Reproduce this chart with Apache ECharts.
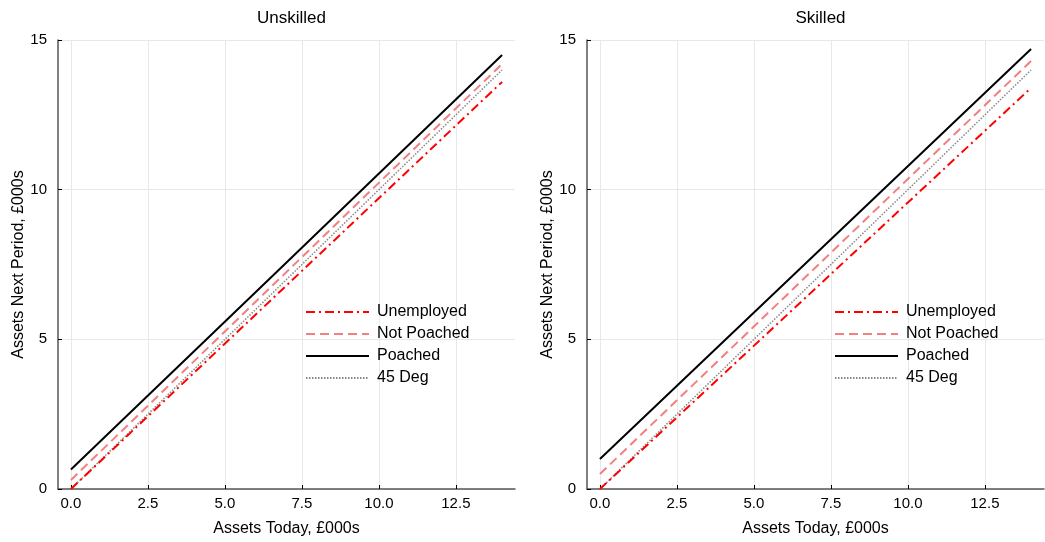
<!DOCTYPE html>
<html>
<head>
<meta charset="utf-8">
<script src="https://cdn.jsdelivr.net/npm/echarts@6/dist/echarts.min.js"></script>
<style>html,body{margin:0;padding:0;background:#fff}#c{width:1045px;height:542px}</style>
</head>
<body>
<div id="c"></div>
<script>
// Data
var panelTitles = ['Unskilled', 'Skilled'];
var seriesNames = ['Unemployed', 'Not Poached', 'Poached', '45 Deg'];
var assetsToday = [0, 7, 14];
// Unskilled panel
var unskilledUnemployed = [0, 6.8, 13.6];
var unskilledNotPoached = [0.3, 7.25, 14.2];
var unskilledPoached = [0.65, 7.57, 14.5];
var unskilled45 = [0, 7, 14];
// Skilled panel
var skilledUnemployed = [0, 6.7, 13.4];
var skilledNotPoached = [0.5, 7.4, 14.3];
var skilledPoached = [1.0, 7.85, 14.7];
var skilled45 = [0, 7, 14];
var xTicks = [0, 2.5, 5, 7.5, 10, 12.5];
var yTicks = [0, 5, 10, 15];

var FONT = 'Liberation Sans';
var styles = [
  {color: '#ff0000', width: 2, type: [9, 4, 2, 4]},
  {color: '#f28080', width: 2, type: [9, 5]},
  {color: '#000000', width: 2, type: 'solid'},
  {color: '#888888', width: 1.5, type: [1.5, 1.5]}
];
var panels = [
  [unskilledUnemployed, unskilledNotPoached, unskilledPoached, unskilled45],
  [skilledUnemployed, skilledNotPoached, skilledPoached, skilled45]
];
var grids = [
  {left: 58, top: 40, width: 457, height: 451},
  {left: 587, top: 40, width: 457, height: 451}
];

function pairs(xs, ys) { return xs.map(function (x, i) { return [x, ys[i]]; }); }

var option = {
  animation: false,
  backgroundColor: '#ffffff',
  title: panelTitles.map(function (t, i) {
    return {text: t, left: grids[i].left + grids[i].width / 2, top: 5, textAlign: 'center',
      textStyle: {fontFamily: FONT, fontSize: 17, fontWeight: 'normal', color: '#000'}};
  }),
  grid: grids,
  legend: [0, 1].map(function (p) {
    return {
      left: grids[p].left + 247, top: 304, orient: 'vertical', itemGap: 6,
      itemWidth: 63, itemHeight: 16,
      itemStyle: {opacity: 0},
      data: seriesNames.map(function (n) { return {name: n + (p ? ' ' : '')}; }),
      formatter: function (n) { return n.trim(); },
      textStyle: {fontFamily: FONT, fontSize: 16, color: '#000', padding: [0, 0, 0, 3]},
      backgroundColor: 'transparent', borderWidth: 0, padding: 0
    };
  }),
  xAxis: [0, 1].map(function (p) {
    return {
      type: 'value', gridIndex: p, min: -0.42, max: 14.42,
      name: 'Assets Today, £000s', nameLocation: 'middle', nameGap: 32,
      nameTextStyle: {fontFamily: FONT, fontSize: 16, color: '#000'},
      axisLine: {onZero: false, lineStyle: {color: '#555', width: 1.5}},
      axisTick: {show: true, inside: true, length: 4, lineStyle: {color: '#000'},
        customValues: xTicks},
      axisLabel: {customValues: xTicks, margin: 7, fontFamily: FONT, fontSize: 15, color: '#000',
        formatter: function (v) { return v.toFixed(1); }, showMinLabel: true, showMaxLabel: true},
      splitLine: {show: true, lineStyle: {color: '#e8e8e8', width: 1}},
      splitNumber: 6, interval: 2.5
    };
  }),
  yAxis: [0, 1].map(function (p) {
    return {
      type: 'value', gridIndex: p, min: 0, max: 15, interval: 5,
      name: 'Assets Next Period, £000s', nameLocation: 'middle', nameGap: 31,
      nameTextStyle: {fontFamily: FONT, fontSize: 16, color: '#000'},
      axisLine: {show: true, onZero: false, lineStyle: {color: '#555', width: 1.5}},
      axisTick: {show: true, inside: true, length: 4, lineStyle: {color: '#000'}},
      axisLabel: {margin: 11, fontFamily: FONT, fontSize: 15, color: '#000'},
      splitLine: {show: true, lineStyle: {color: '#e8e8e8', width: 1}}
    };
  }),
  series: []
};

panels.forEach(function (vals, p) {
  vals.forEach(function (ys, k) {
    option.series.push({
      type: 'line', name: seriesNames[k] + (p ? ' ' : ''),
      xAxisIndex: p, yAxisIndex: p, data: pairs(assetsToday, ys),
      symbol: 'none', silent: true, z: 10 - k,
      lineStyle: styles[k], itemStyle: {color: styles[k].color}, color: styles[k].color
    });
  });
});

var chart = echarts.init(document.getElementById('c'), null, {renderer: 'canvas'});
chart.setOption(option);
</script>
</body>
</html>
